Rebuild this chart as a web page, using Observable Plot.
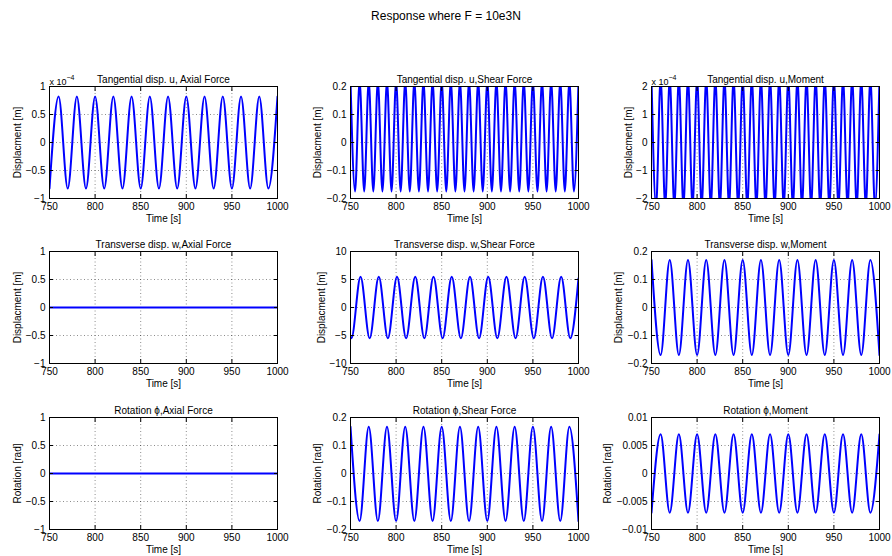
<!DOCTYPE html>
<html>
<head>
<meta charset="utf-8">
<script src="https://cdn.jsdelivr.net/npm/d3@7"></script>
<script src="https://cdn.jsdelivr.net/npm/@observablehq/plot@0.6"></script>
<style>
  html, body { margin: 0; padding: 0; background: #fff; }
  #root { position: relative; width: 892px; height: 556px; overflow: hidden; font-family: "Liberation Sans", Arial, Helvetica, sans-serif; }
  #title { position: absolute; left: 0; top: 8px; width: 892px; text-align: center; font-size: 12px; line-height: 16px; color: #000; }
  .panel { position: absolute; }
</style>
</head>
<body>
<div id="root"><div id="title">Response where F = 10e3N</div></div>
<script>
// ---------- data ----------
const xTicks = [750, 800, 850, 900, 950, 1000];

// sample times (extrema of the oscillations, in s)
const time10 = [750, 760, 770, 780, 790, 800, 810, 820, 830, 840, 850, 860, 870, 880, 890, 900, 910, 920, 930, 940, 950, 960, 970, 980, 990, 1000];
const time5 = [750, 755, 760, 765, 770, 775, 780, 785, 790, 795, 800, 805, 810, 815, 820, 825, 830, 835, 840, 845, 850, 855, 860, 865, 870, 875, 880, 885, 890, 895, 900, 905, 910, 915, 920, 925, 930, 935, 940, 945, 950, 955, 960, 965, 970, 975, 980, 985, 990, 995, 1000];
const timeFlat = [750, 1000];
const timeWShear = [750, 751, 761, 771, 781, 791, 801, 811, 821, 831, 841, 851, 861, 871, 881, 891, 901, 911, 921, 931, 941, 951, 961, 971, 981, 991, 1000];

// Tangential disp. u  (axial and moment in units of 1e-4 m)
const uAxial = [-0.82, 0.82, -0.82, 0.82, -0.82, 0.82, -0.82, 0.82, -0.82, 0.82, -0.82, 0.82, -0.82, 0.82, -0.82, 0.82, -0.82, 0.82, -0.82, 0.82, -0.82, 0.82, -0.82, 0.82, -0.82, 0.82];
const uShear = [0.22, -0.175, 0.22, -0.175, 0.22, -0.175, 0.22, -0.175, 0.22, -0.175, 0.22, -0.175, 0.22, -0.175, 0.22, -0.175, 0.22, -0.175, 0.22, -0.175, 0.22, -0.175, 0.22, -0.175, 0.22, -0.175, 0.22, -0.175, 0.22, -0.175, 0.22, -0.175, 0.22, -0.175, 0.22, -0.175, 0.22, -0.175, 0.22, -0.175, 0.22, -0.175, 0.22, -0.175, 0.22, -0.175, 0.22, -0.175, 0.22, -0.175, 0.22];
const uMoment = [2.3, -2.3, 2.3, -2.3, 2.3, -2.3, 2.3, -2.3, 2.3, -2.3, 2.3, -2.3, 2.3, -2.3, 2.3, -2.3, 2.3, -2.3, 2.3, -2.3, 2.3, -2.3, 2.3, -2.3, 2.3, -2.3, 2.3, -2.3, 2.3, -2.3, 2.3, -2.3, 2.3, -2.3, 2.3, -2.3, 2.3, -2.3, 2.3, -2.3, 2.3, -2.3, 2.3, -2.3, 2.3, -2.3, 2.3, -2.3, 2.3, -2.3, 2.3];

// Transverse disp. w
const wAxial = [0, 0];
const wShear = [-5.2, -5.5, 5.5, -5.5, 5.5, -5.5, 5.5, -5.5, 5.5, -5.5, 5.5, -5.5, 5.5, -5.5, 5.5, -5.5, 5.5, -5.5, 5.5, -5.5, 5.5, -5.5, 5.5, -5.5, 5.5, -5.5, 5.2];
const wMoment = [0.17, -0.17, 0.17, -0.17, 0.17, -0.17, 0.17, -0.17, 0.17, -0.17, 0.17, -0.17, 0.17, -0.17, 0.17, -0.17, 0.17, -0.17, 0.17, -0.17, 0.17, -0.17, 0.17, -0.17, 0.17, -0.17];

// Rotation phi
const rotAxial = [0, 0];
const rotShear = [0.167, -0.17, 0.167, -0.17, 0.167, -0.17, 0.167, -0.17, 0.167, -0.17, 0.167, -0.17, 0.167, -0.17, 0.167, -0.17, 0.167, -0.17, 0.167, -0.17, 0.167, -0.17, 0.167, -0.17, 0.167, -0.17];
const rotMoment = [-0.007, 0.007, -0.007, 0.007, -0.007, 0.007, -0.007, 0.007, -0.007, 0.007, -0.007, 0.007, -0.007, 0.007, -0.007, 0.007, -0.007, 0.007, -0.007, 0.007, -0.007, 0.007, -0.007, 0.007, -0.007, 0.007];

// y tick values
const ticksUnit = [-1, -0.5, 0, 0.5, 1];
const ticksPoint2 = [-0.2, -0.1, 0, 0.1, 0.2];
const ticksTwo = [-2, -1, 0, 1, 2];
const ticksTen = [-10, -5, 0, 5, 10];
const ticksHundredth = [-0.01, -0.005, 0, 0.005, 0.01];

const titles = [
  "Tangential disp. u, Axial Force", "Tangential disp. u,Shear Force", "Tangential disp. u,Moment",
  "Transverse disp. w,Axial Force", "Transverse disp. w,Shear Force", "Transverse disp. w,Moment",
  "Rotation \u03d5,Axial Force", "Rotation \u03d5,Shear Force", "Rotation \u03d5,Moment"
];
const yLabels = ["Displacment [m]", "Displacment [m]", "Rotation [rad]"];

// ---------- layout ----------
const FONT = '"Liberation Sans", Arial, Helvetica, sans-serif';
const colX = [49, 350, 651];
const rowY = [86, 251, 417];
const W = 228, H = 112, MR = 8, MT = 22, MB = 27;

const panels = [
  {col: 0, row: 0, t: time10, v: uAxial, ticks: ticksUnit, exp: "\u22124", lo: 36},
  {col: 1, row: 0, t: time5, v: uShear, ticks: ticksPoint2, lo: 37},
  {col: 2, row: 0, t: time5, v: uMoment, ticks: ticksTwo, exp: "\u22124", lo: 27},
  {col: 0, row: 1, t: timeFlat, v: wAxial, ticks: ticksUnit, lo: 36},
  {col: 1, row: 1, t: timeWShear, v: wShear, ticks: ticksTen, lo: 33},
  {col: 2, row: 1, t: time10, v: wMoment, ticks: ticksPoint2, lo: 37},
  {col: 0, row: 2, t: timeFlat, v: rotAxial, ticks: ticksUnit, lo: 36},
  {col: 1, row: 2, t: time10, v: rotShear, ticks: ticksPoint2, lo: 37},
  {col: 2, row: 2, t: time10, v: rotMoment, ticks: ticksHundredth, lo: 48}
];

const fmt = d => (d < 0 ? "\u2212" : "") + String(Math.abs(d));
const blank = () => "";
const grid = {stroke: "#000", strokeOpacity: 0.45, strokeDasharray: "1,2.5", strokeWidth: 1};

const root = document.getElementById("root");
panels.forEach((p, i) => {
  const ML = p.lo + 12;
  const data = p.t.map((t, k) => ({t, v: p.v[k]}));
  const marks = [
    Plot.gridX(xTicks, grid),
    Plot.gridY(p.ticks, grid),
    Plot.line(data, {x: "t", y: "v", stroke: "#0000ff", strokeWidth: 2, curve: "monotone-x", clip: true}),
    Plot.frame({stroke: "#000", strokeWidth: 1}),
    Plot.axisX(xTicks, {anchor: "bottom", tickSize: -4, tickPadding: 8, tickFormat: fmt, label: "Time [s]", labelAnchor: "center", labelArrow: "none", labelOffset: 23, fontSize: 10}),
    Plot.axisX(xTicks, {anchor: "top", tickSize: -4, tickFormat: blank, label: null}),
    Plot.axisY(p.ticks, {anchor: "left", tickSize: -4, tickPadding: 8, tickFormat: fmt, label: yLabels[p.row], labelAnchor: "center", labelArrow: "none", labelOffset: p.lo, fontSize: 10}),
    Plot.axisY(p.ticks, {anchor: "right", tickSize: -4, tickFormat: blank, label: null}),
    Plot.text([titles[i]], {text: d => d, frameAnchor: "top", dy: -11, fontSize: 10, fill: "#000"})
  ];
  if (p.exp) {
    marks.push(Plot.text(["x 10"], {text: d => d, frameAnchor: "top-left", textAnchor: "start", lineAnchor: "bottom", dy: -2, dx: 0, fontSize: 9, fill: "#000"}));
    marks.push(Plot.text([p.exp], {text: d => d, frameAnchor: "top-left", textAnchor: "start", lineAnchor: "bottom", dy: -7, dx: 17, fontSize: 7, fill: "#000"}));
  }
  const chart = Plot.plot({
    width: ML + W + MR,
    height: MT + H + MB,
    marginLeft: ML, marginRight: MR, marginTop: MT, marginBottom: MB,
    style: {fontFamily: FONT, fontSize: "10px", color: "#000", background: "transparent", overflow: "visible"},
    x: {domain: [750, 1000]},
    y: {domain: [p.ticks[0], p.ticks[p.ticks.length - 1]]},
    marks
  });
  chart.classList.add("panel");
  chart.style.left = (colX[p.col] - ML) + "px";
  chart.style.top = (rowY[p.row] - MT) + "px";
  root.appendChild(chart);
});
</script>
</body>
</html>
